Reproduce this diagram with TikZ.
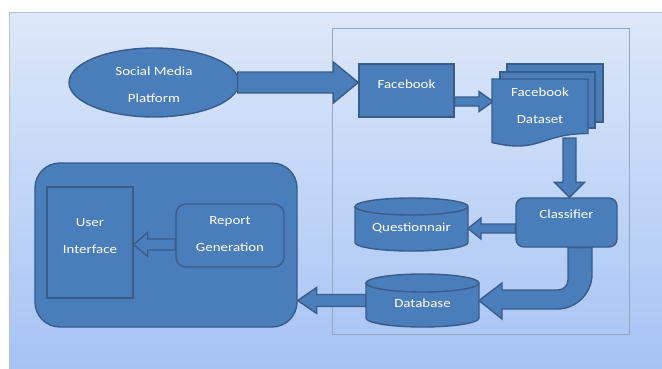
\documentclass[tikz,border=0pt]{standalone}
\usepackage{fontspec}
\setmainfont[FakeStretch=1.2]{Carlito}
\usetikzlibrary{calc,shapes.geometric}
\definecolor{bfill}{HTML}{4A7EBB}
\definecolor{bline}{HTML}{385D8A}
\definecolor{bgtop}{HTML}{DDE8F9}
\definecolor{bgbot}{HTML}{A6C3F4}
\definecolor{panel}{HTML}{95A6C0}
\tikzset{
  shapebox/.style={draw=bline, fill=bfill, line width=1.4bp},
  lbl/.style={text=white, font=\fontsize{12.5}{27}\selectfont, align=center, inner sep=0pt},
  arrowbody/.style={draw=bline, fill=bfill, line width=1.4bp, line join=miter},
  ghost/.style={draw=none, fill=none, inner sep=0pt, outer sep=0pt},
}
% #1 tail, #2 tip, #3 half shaft, #4 half head, #5 head length
\newcommand\blockarr[5]{%
  \coordinate (ba-t) at (#1);
  \coordinate (ba-p) at (#2);
  \coordinate (ba-b) at ($(ba-p)!#5!(ba-t)$);
  \draw[arrowbody] ($(ba-t)!#3!90:(ba-p)$) -- ($(ba-b)!#3!-90:(ba-t)$) -- ($(ba-b)!#4!-90:(ba-t)$) -- (ba-p) -- ($(ba-b)!#4!90:(ba-t)$) -- ($(ba-b)!#3!90:(ba-t)$) -- ($(ba-t)!#3!-90:(ba-p)$) -- cycle;
}
\begin{document}
\begin{tikzpicture}[x=1bp,y=-1bp]
\useasboundingbox (0,0) rectangle (662,368);
\fill[white] (0,0) rectangle (662,368);
\shade[top color=bgtop, bottom color=bgbot] (9,12) rectangle (662,368);
\draw[panel!70, line width=0.8bp] (9,368) -- (9,12) -- (662,12);
\draw[panel, line width=1bp] (332,28) rectangle (629,334);

% left group
\node[shapebox, rounded corners=25bp, minimum width=262bp, minimum height=164bp] (big) at (166,245) {};
\node[shapebox, minimum width=86bp, minimum height=111bp] (ui) at (90,242.5) {};
\node[lbl] (uit) at (90,236) {User\\Interface};
\node[shapebox, rounded corners=10bp, minimum width=108bp, minimum height=63bp] (rg) at (230,235.5) {};
\node[lbl] (rgt) at (230,234) {Report\\Generation};

% top row
\node[shapebox, ellipse, minimum width=170bp, minimum height=69bp] (smp) at (154,82.5) {};
\node[lbl] (smpt) at (154,84.5) {Social Media\\Platform};
\node[shapebox, minimum width=95bp, minimum height=53bp] (fb) at (406.5,90.5) {};
\node[lbl] (fbt) at (406.5,84) {Facebook};
\node[shapebox, rounded corners=8bp, minimum width=101bp, minimum height=49bp] (cls) at (566.5,222.5) {};
\node[lbl] (clst) at (566.5,214) {Classifier};

% placeholders for drawn shapes
\node[ghost, minimum width=113bp, minimum height=53bp] (q) at (411.5,224.5) {};
\node[ghost, minimum width=113bp, minimum height=53bp] (db) at (422.5,300.5) {};
\node[ghost, minimum width=96bp, minimum height=66bp] (ds) at (540,112) {};
\coordinate (dsbot) at (569.5,138);

% connectors
\blockarr{$(smp.east)+(-2,0)$}{fb.west |- smp.east}{10.5bp}{20.5bp}{25bp}
\blockarr{$(fb.east)+(0,11)$}{$(ds.west)+(1,-10.5)$}{4.5bp}{10bp}{14bp}
\blockarr{dsbot}{$(cls.north)+(3,0)$}{6.5bp}{15bp}{15bp}
\blockarr{$(cls.west)+(0,6)$}{$(q.east)+(0,4)$}{4.5bp}{10.5bp}{13bp}
\blockarr{db.west}{big.east |- db.west}{6bp}{13bp}{19bp}
\blockarr{$(rg.west)+(0,9)$}{$(ui.east)+(0,2)$}{5.5bp}{12bp}{14bp}
\draw[arrowbody] ($(cls.south)+(1.5,0)$) -- (568,280) arc[start angle=0,end angle=-90,radius=10bp]
  -- (502,290) -- (502,283) -- (db.east) -- (502,319) -- (502,309) -- (557,309)
  arc[start angle=-90,end angle=0,radius=35bp] -- ($(cls.south)+(25.5,0)$) -- cycle;

% multidocument
\draw[shapebox] (507,64) rectangle (603,122);
\draw[shapebox] (500,72) rectangle (595,128);
\draw[shapebox] (492,79) -- (588,79) -- (588,133.5) .. controls (540,133.5) and (540,154) .. (492,142.5) -- cycle;
\node[lbl] (dst) at (540,105.5) {Facebook\\Dataset};

% cylinders
\draw[shapebox] (355,206.5) -- (355,242.5) arc[start angle=180,end angle=360,x radius=56.5bp,y radius=8.5bp]
  -- (468,206.5) arc[start angle=0,end angle=180,x radius=56.5bp,y radius=8.5bp] -- cycle;
\draw[shapebox] (355,206.5) arc[start angle=180,end angle=360,x radius=56.5bp,y radius=8.5bp];
\node[lbl] (qt) at (411.5,228) {Questionnair};
\draw[shapebox] (366,283) -- (366,318) arc[start angle=180,end angle=360,x radius=56.5bp,y radius=9bp]
  -- (479,283) arc[start angle=0,end angle=180,x radius=56.5bp,y radius=9bp] -- cycle;
\draw[shapebox] (366,283) arc[start angle=180,end angle=360,x radius=56.5bp,y radius=9bp];
\node[lbl] (dbt) at (422.5,303) {Database};
\end{tikzpicture}
\end{document}
